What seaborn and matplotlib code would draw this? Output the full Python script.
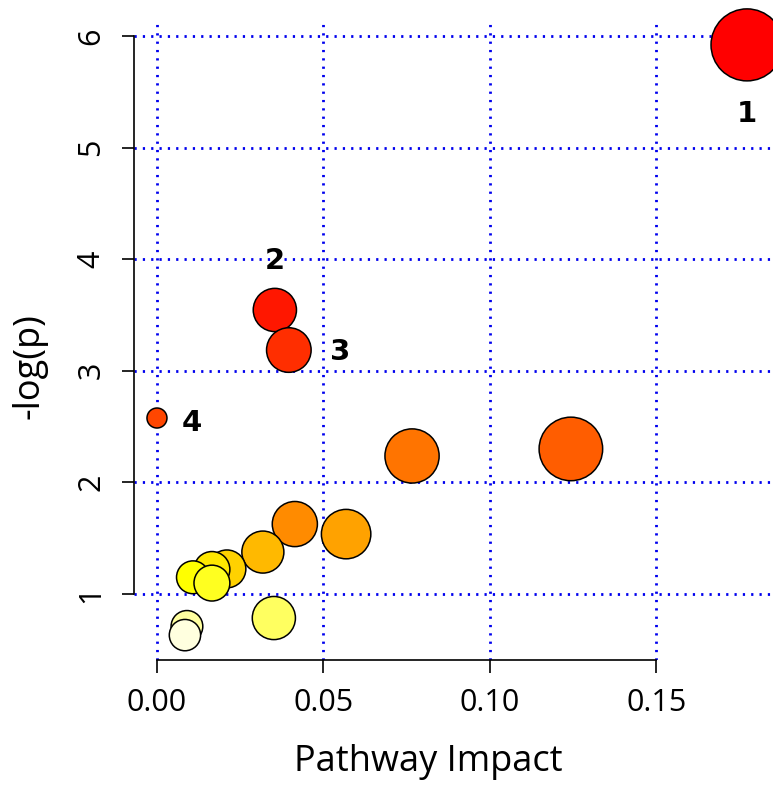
import colorsys
import numpy as np
import pandas as pd
import matplotlib
matplotlib.use("Agg")
import matplotlib.pyplot as plt
import seaborn as sns

# pathway impact (x) and -log(p) (y)
impact = [0.1772, 0.0354, 0.0396, 0.0000, 0.1243, 0.0766, 0.0414, 0.0568,
          0.0318, 0.0210, 0.0165, 0.0108, 0.0165, 0.0351, 0.0090, 0.0084]
logp = [5.92, 3.545, 3.186, 2.577, 2.30, 2.237, 1.627, 1.537,
        1.376, 1.225, 1.22, 1.15, 1.098, 0.785, 0.71, 0.632]
labels = ["1", "2", "3", "4"]  # top four pathways
xticks = [0.00, 0.05, 0.10, 0.15]
yticks = [1, 2, 3, 4, 5, 6]

df = pd.DataFrame({"impact": impact, "logp": logp})
df = df.sort_values("logp", ascending=False).reset_index(drop=True)
df["rank"] = np.arange(1, len(df) + 1)

# R heat.colors(n)
n = len(df)
j = n // 4
i = n - j
heat = [colorsys.hsv_to_rgb(h, 1, 1) for h in np.linspace(0, 1 / 6, i)]
heat += [colorsys.hsv_to_rgb(1 / 6, s, 1) for s in np.linspace(1 - 1 / (2 * j), 1 / (2 * j), j)]
pal = {r: heat[r - 1] for r in df["rank"]}

# circle radius grows with sqrt(impact), in pixels -> marker area in pt^2
r_px = 10 + 26 * np.sqrt(df["impact"] / df["impact"].max())
sizes = (2 * r_px * 0.72) ** 2

sns.set_style("white")
plt.rcParams["font.family"] = ["Open Sans", "DejaVu Sans"]
plt.rcParams["text.color"] = "black"
plt.rcParams["axes.labelcolor"] = "black"
plt.rcParams["xtick.color"] = "black"
plt.rcParams["ytick.color"] = "black"

fig = plt.figure(figsize=(7.73, 7.86), dpi=100)
ax = fig.add_axes([134 / 773, 126 / 786, 639 / 773, 639 / 786])

sns.scatterplot(data=df, x="impact", y="logp", hue="rank", palette=pal,
                s=sizes, edgecolor="black", linewidth=1.1, legend=False,
                ax=ax, zorder=3, clip_on=False)

# numbered labels for the top pathways
offsets = [(0, -50), (0, 35), (37, -1.5), (25, -3.5)]
for k, lab in enumerate(labels):
    ax.annotate(lab, (df["impact"][k], df["logp"][k]), xytext=offsets[k],
                textcoords="offset points", ha="center", va="center",
                fontsize=21, fontweight="bold", family="DejaVu Sans",
                color="black", annotation_clip=False, zorder=4)

ax.set_xlim(-0.0069, 0.185)
ax.set_ylim(0.409, 6.134)
ax.set_xticks(xticks)
ax.set_xticklabels([f"{t:.2f}" for t in xticks])
ax.set_yticks(yticks)
ax.set_yticklabels([str(t) for t in yticks], rotation=90, va="center")

ax.grid(True, color="#0000ee", linestyle=(0, (0.8, 2.2)), linewidth=2)
ax.set_axisbelow(True)

for side in ["top", "right"]:
    ax.spines[side].set_visible(False)
ax.spines["left"].set_bounds(1, 6)
ax.spines["bottom"].set_bounds(0, 0.15)
for side in ["left", "bottom"]:
    ax.spines[side].set_linewidth(1.2)
    ax.spines[side].set_color("black")

ax.tick_params(axis="both", direction="out", length=9, width=1.2,
               color="black", labelcolor="black", labelsize=22,
               left=True, bottom=True)
ax.tick_params(axis="x", pad=11)
ax.tick_params(axis="y", pad=11)

# axis titles sit centred on R's plot region, a bit left/below the axes centre
ax.set_xlabel("Pathway Impact", fontsize=26, va="center")
ax.set_ylabel("-log(p)", fontsize=26, va="center")
ax.xaxis.set_label_coords(0.46, -0.16)
ax.yaxis.set_label_coords(-0.163, 0.46)

fig.savefig("out.png", dpi=100)
